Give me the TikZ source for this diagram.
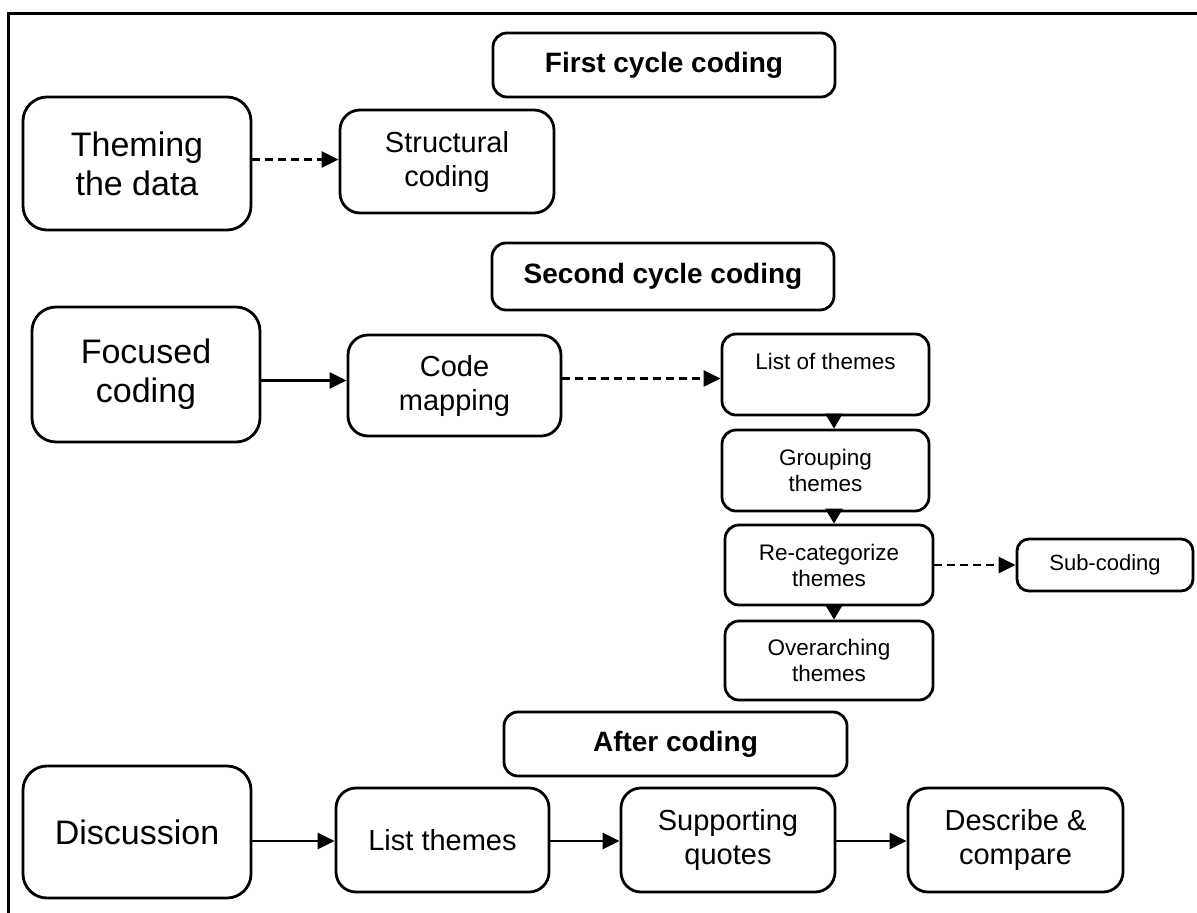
\documentclass[tikz,border=0pt]{standalone}
\usepackage{fontspec}
\setmainfont{Liberation Sans}
\usetikzlibrary{arrows.meta}

\tikzset{
  x=1pt, y=-1pt,
  stage/.style={draw, line width=2.8pt, align=center, inner sep=0pt,
    rounded corners=#1},
  stage/.default=14pt,
  bigtxt/.style={font=\fontsize{34}{39}\selectfont},
  midtxt/.style={font=\fontsize{29}{34}\selectfont},
  smalltxt/.style={font=\fontsize{22.5}{26}\selectfont},
  headtxt/.style={font=\fontsize{28}{32}\selectfont\bfseries},
  flow/.style={line width=2.8pt, -{Triangle[length=17pt,width=16pt]}},
  hint/.style={flow, dash pattern=on 8pt off 5pt},
  stepdown/.style={line width=2.8pt, -{Triangle[length=15pt,width=17pt]}},
}

\begin{document}
\begin{tikzpicture}
\useasboundingbox (0,0) rectangle (1197,913);

% outer frame (open towards right and bottom)
\draw[line width=3pt] (8,925) -- (8,13) -- (1210,13);

% section headers
\node[stage, headtxt, minimum width=342pt, minimum height=64pt] (first)  at (664,65)    {First cycle coding};
\node[stage, headtxt, minimum width=342pt, minimum height=67pt] (second) at (663,276.5) {Second cycle coding};
\node[stage, headtxt, minimum width=343pt, minimum height=64pt] (after)  at (675.5,744) {After coding};

% first cycle
\node[stage=24pt, bigtxt, minimum width=228pt, minimum height=133pt] (theming) at (137,163.5) {Theming\\the data};
\node[stage=20pt, midtxt, minimum width=214pt, minimum height=103pt] (struct) at (447,161.5) {Structural\\coding};

% second cycle
\node[stage=24pt, bigtxt, minimum width=228pt, minimum height=135pt] (focused) at (146,374.5) {Focused\\coding};
\node[stage=20pt, midtxt, minimum width=213pt, minimum height=101pt] (codemap) at (454.5,385.5) {Code\\mapping};
\node[stage, smalltxt, minimum width=207pt, minimum height=81pt] (listth) at (825.5,374.5) {List of themes\\[0pt]~};
\node[stage, smalltxt, minimum width=207pt, minimum height=81pt] (group) at (825.5,470.5) {Grouping\\themes};
\node[stage, smalltxt, minimum width=208pt, minimum height=80pt] (recat) at (829,565) {Re-categorize\\themes};
\node[stage, smalltxt, minimum width=208pt, minimum height=79pt] (over) at (829,660.5) {Overarching\\themes};
\node[stage=12pt, font=\fontsize{22}{26}\selectfont, minimum width=176pt, minimum height=52pt] (sub) at (1105,565) {Sub-coding};

% after coding
\node[stage=24pt, bigtxt, minimum width=228pt, minimum height=132pt] (disc) at (137,832) {Discussion};
\node[stage=20pt, midtxt, minimum width=213pt, minimum height=104pt] (listt) at (442.5,840) {List themes};
\node[stage=20pt, midtxt, minimum width=214pt, minimum height=104pt] (quotes) at (728,840) {Supporting\\quotes};
\node[stage=20pt, midtxt, minimum width=215pt, minimum height=104pt] (descr) at (1015.5,840) {Describe \&\\compare};

% column of theme steps
\coordinate (col) at (834,0);

% connectors
\draw[hint] ([yshift=4pt]theming.east) -- ([yshift=4pt]theming.east -| struct.west);
\draw[flow] ([yshift=-6pt]focused.east) -- ([yshift=-6pt]focused.east -| codemap.west);
\draw[hint] ([yshift=7pt]codemap.east) -- ([yshift=7pt]codemap.east -| listth.west);
\draw[stepdown] (listth.south -| col) -- (group.north -| col);
\draw[stepdown] (group.south -| col) -- (recat.north -| col);
\draw[stepdown] (recat.south -| col) -- (over.north -| col);
\draw[hint] (recat.east) -- (sub.west);
\draw[flow] ([yshift=-9pt]disc.east) -- ([yshift=-9pt]disc.east -| listt.west);
\draw[flow] ([yshift=-1pt]listt.east) -- ([yshift=-1pt]listt.east -| quotes.west);
\draw[flow] ([yshift=-1pt]quotes.east) -- ([yshift=-1pt]quotes.east -| descr.west);
\end{tikzpicture}
\end{document}
